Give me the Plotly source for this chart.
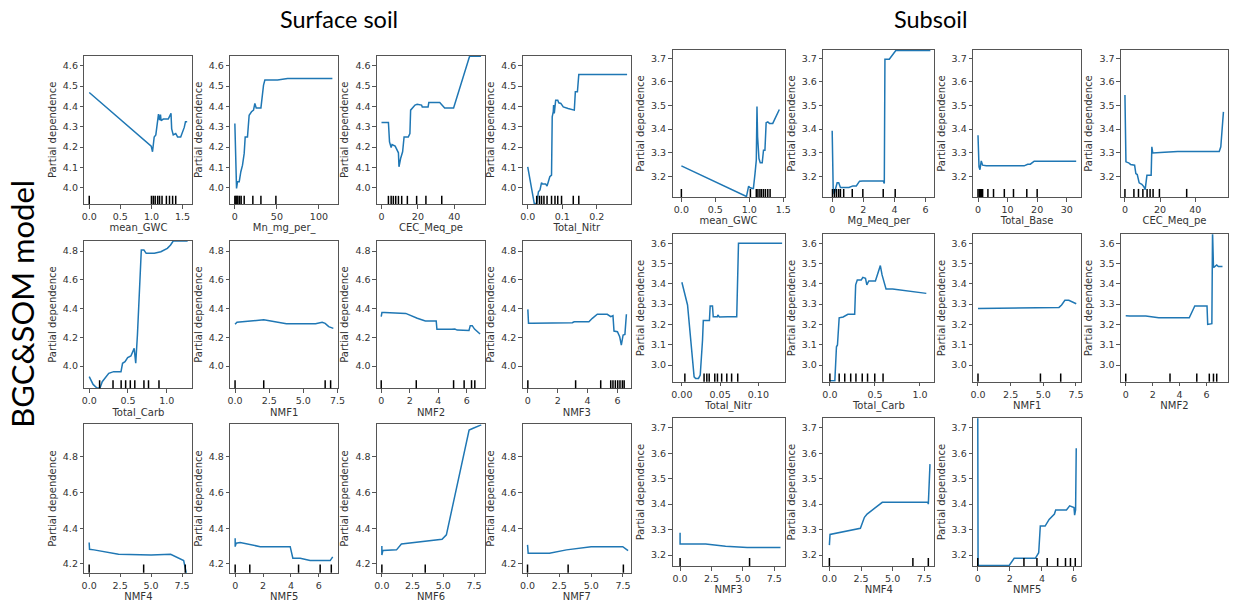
import plotly.graph_objects as go

W, H = 1237, 603

# ---------------- Surface soil ----------------
s_gwc_x = [0, 0.996, 1.017, 1.044, 1.07, 1.09, 1.113, 1.13, 1.145, 1.155, 1.19, 1.27, 1.314, 1.325, 1.35, 1.39, 1.42, 1.47, 1.527, 1.547, 1.574]
s_gwc_y = [4.469, 4.205, 4.177, 4.25, 4.26, 4.30, 4.362, 4.333, 4.36, 4.33, 4.338, 4.338, 4.366, 4.29, 4.26, 4.267, 4.25, 4.25, 4.297, 4.325, 4.325]
s_gwc_rug = [0, 1.0, 1.03, 1.06, 1.1, 1.13, 1.17, 1.24, 1.29, 1.34, 1.39]

s_mn_x = [0, 0.8, 2, 3.2, 5.2, 7.1, 9.1, 11.1, 12.3, 15, 17, 19.8, 22.2, 23.8, 25.4, 31, 34.1, 35.7, 50.8, 62.7, 116]
s_mn_y = [4.316, 4.218, 3.997, 4.03, 4.03, 4.079, 4.111, 4.169, 4.25, 4.25, 4.357, 4.374, 4.382, 4.415, 4.393, 4.393, 4.505, 4.53, 4.53, 4.538, 4.538]
s_mn_rug = [0, 1.2, 2.4, 3.6, 5.6, 7.5, 11.1, 21.4, 31, 48.8]

s_cec_x = [0, 3.8, 4.4, 5.3, 5.8, 7.5, 9.3, 9.6, 10.5, 11.6, 12.4, 14.7, 15.6, 16, 18.4, 19.6, 22, 22.4, 25.6, 26, 32, 34.7, 39.6, 48.4, 54.7]
s_cec_y = [4.321, 4.321, 4.226, 4.198, 4.213, 4.205, 4.172, 4.103, 4.144, 4.177, 4.25, 4.25, 4.267, 4.382, 4.407, 4.411, 4.407, 4.398, 4.398, 4.42, 4.42, 4.393, 4.393, 4.647, 4.647]
s_cec_rug = [3.8, 5.3, 6.5, 7.8, 9.3, 11.1, 14.2, 19.3, 24.4, 33.1]

s_nitr_x = [0, 0.0135, 0.019, 0.026, 0.031, 0.0356, 0.04, 0.043, 0.052, 0.056, 0.06, 0.064, 0.069, 0.071, 0.074, 0.075, 0.077, 0.081, 0.087, 0.09, 0.096, 0.103, 0.117, 0.132, 0.135, 0.138, 0.144, 0.148, 0.288]
s_nitr_y = [4.103, 3.972, 3.922, 3.922, 3.98, 3.989, 4.025, 4.018, 4.018, 4.008, 4.03, 4.054, 4.062, 4.349, 4.374, 4.407, 4.366, 4.431, 4.431, 4.418, 4.415, 4.398, 4.39, 4.385, 4.382, 4.472, 4.472, 4.557, 4.557]
s_nitr_rug = [0.026, 0.034, 0.040, 0.047, 0.056, 0.069, 0.079, 0.087, 0.098, 0.132, 0.148]

s_carb_x = [0, 0.05, 0.1, 0.139, 0.168, 0.252, 0.315, 0.41, 0.43, 0.462, 0.496, 0.538, 0.58, 0.6, 0.622, 0.672, 0.706, 0.735, 0.84, 0.924, 1.008, 1.05, 1.084, 1.27]
s_carb_y = [3.926, 3.872, 3.847, 3.847, 3.891, 3.949, 3.961, 3.961, 4.019, 4.03, 4.058, 4.07, 4.123, 4.019, 4.216, 4.807, 4.807, 4.784, 4.784, 4.795, 4.819, 4.842, 4.87, 4.87]
s_carb_rug = [0.134, 0.307, 0.412, 0.47, 0.53, 0.588, 0.706, 0.765, 0.9]

s_nmf1_x = [0, 0.14, 2.1, 3.76, 5.9, 6.38, 6.6, 6.86, 7.2]
s_nmf1_y = [4.29, 4.304, 4.322, 4.294, 4.294, 4.304, 4.297, 4.274, 4.262]
s_nmf1_rug = [0, 2.1, 6.6, 7.0]

s_nmf2_x = [0, 0.05, 0.23, 1.72, 2.53, 3.1, 3.86, 3.91, 4.94, 5.17, 5.33, 5.8, 6.16, 6.25, 6.39, 6.55, 6.78, 6.94]
s_nmf2_y = [4.343, 4.373, 4.373, 4.366, 4.332, 4.313, 4.313, 4.255, 4.255, 4.257, 4.25, 4.248, 4.248, 4.281, 4.281, 4.257, 4.234, 4.223]
s_nmf2_rug = [0, 2.46, 5.08, 5.82, 6.34, 6.57]

s_nmf3_x = [0, 0.045, 0.29, 2.98, 3.1, 4.09, 4.32, 4.65, 5.32, 5.55, 5.7, 5.77, 6.0, 6.15, 6.26, 6.38, 6.5, 6.6]
s_nmf3_y = [4.394, 4.297, 4.297, 4.301, 4.308, 4.308, 4.332, 4.36, 4.36, 4.343, 4.35, 4.243, 4.239, 4.204, 4.146, 4.216, 4.22, 4.36]
s_nmf3_rug = [0, 3.2, 4.88, 5.55, 5.7, 5.86, 6.02, 6.17, 6.33, 6.45]

s_nmf4_x = [0, 0.03, 0.39, 2.37, 5.0, 6.58, 7.63, 7.9]
s_nmf4_y = [4.32, 4.282, 4.279, 4.254, 4.25, 4.254, 4.219, 4.13]
s_nmf4_rug = [0, 4.4, 7.76]

s_nmf5_x = [0, 0, 0.07, 0.36, 1.8, 3.95, 4.14, 4.67, 5.38, 6.82, 7.0]
s_nmf5_y = [4.344, 4.297, 4.316, 4.32, 4.297, 4.297, 4.232, 4.232, 4.219, 4.219, 4.24]
s_nmf5_rug = [0, 1.05, 4.55, 6.1, 6.9]

s_nmf6_x = [0, 0, 0.08, 1.19, 1.59, 4.9, 5.25, 7.1, 7.43, 8.09]
s_nmf6_y = [4.301, 4.25, 4.275, 4.279, 4.312, 4.338, 4.363, 4.951, 4.961, 4.98]
s_nmf6_rug = [0, 3.53]

s_nmf7_x = [0, 0, 0.05, 1.72, 3.06, 5.0, 7.48, 7.9]
s_nmf7_y = [4.307, 4.264, 4.26, 4.26, 4.279, 4.297, 4.297, 4.275]
s_nmf7_rug = [0, 3.19, 7.53]

# ---------------- Subsoil ----------------
b_gwc_x = [0, 0.958, 0.99, 1.006, 1.045, 1.06, 1.084, 1.103, 1.113, 1.122, 1.142, 1.161, 1.19, 1.209, 1.23, 1.248, 1.272, 1.297, 1.345, 1.393, 1.442]
b_gwc_y = [3.244, 3.114, 3.158, 3.152, 3.148, 3.148, 3.211, 3.268, 3.495, 3.367, 3.275, 3.257, 3.257, 3.31, 3.31, 3.427, 3.43, 3.424, 3.424, 3.452, 3.483]
b_gwc_rug = [0, 1.016, 1.103, 1.127, 1.156, 1.18, 1.209, 1.238, 1.272, 1.306]

b_mg_x = [0, 0.064, 0.127, 0.21, 0.318, 0.42, 0.53, 1.08, 1.33, 1.55, 1.76, 1.97, 3.28, 3.35, 3.39, 3.67, 4.09, 6.31]
b_mg_y = [3.393, 3.148, 3.124, 3.141, 3.172, 3.172, 3.152, 3.152, 3.159, 3.159, 3.179, 3.18, 3.18, 3.169, 3.696, 3.696, 3.733, 3.733]
b_mg_rug = [0.02, 0.15, 0.28, 0.42, 0.53, 0.74, 1.29, 1.97, 3.28, 4.05]

b_base_x = [0, 0.34, 0.67, 1.1, 1.56, 2.8, 15.6, 16.8, 17.7, 19.0, 33.2]
b_base_y = [3.374, 3.24, 3.228, 3.265, 3.247, 3.244, 3.244, 3.251, 3.251, 3.264, 3.264]
b_base_rug = [0, 0.45, 0.78, 1.1, 1.56, 3.35, 5.25, 8.9, 12, 16.5, 20]

b_cec_x = [0, 0.57, 2.1, 3.2, 5.5, 6.2, 7.0, 8.1, 9.6, 10.8, 11.5, 12.1, 12.5, 14.9, 15.3, 15.8, 18.7, 22.5, 30, 53.6, 54.5, 56]
b_cec_y = [3.544, 3.261, 3.257, 3.25, 3.247, 3.211, 3.207, 3.172, 3.166, 3.155, 3.143, 3.169, 3.204, 3.204, 3.325, 3.299, 3.299, 3.302, 3.305, 3.305, 3.325, 3.473]
b_cec_rug = [0, 5.1, 7.7, 10.2, 12.6, 14.3, 16, 19.6, 35.1]

b_nitr_x = [0, 0.0074, 0.016, 0.018, 0.0217, 0.024, 0.027, 0.028, 0.0335, 0.036, 0.037, 0.04, 0.041, 0.0465, 0.047, 0.049, 0.06, 0.0717, 0.074, 0.131]
b_nitr_y = [3.408, 3.296, 2.942, 2.934, 2.934, 2.951, 3.123, 3.219, 3.219, 3.219, 3.291, 3.291, 3.238, 3.238, 3.247, 3.237, 3.238, 3.238, 3.6, 3.6]
b_nitr_rug = [0.0039, 0.029, 0.0326, 0.0357, 0.043, 0.0465, 0.052, 0.0587, 0.065, 0.073]

b_carb_x = [0, 0.055, 0.073, 0.084, 0.103, 0.147, 0.2, 0.275, 0.286, 0.304, 0.348, 0.366, 0.395, 0.41, 0.432, 0.505, 0.538, 0.56, 0.579, 0.623, 0.696, 1.07]
b_carb_y = [2.923, 2.923, 3.09, 3.099, 3.233, 3.237, 3.25, 3.25, 3.395, 3.419, 3.419, 3.432, 3.427, 3.395, 3.414, 3.414, 3.46, 3.49, 3.444, 3.375, 3.375, 3.353]
b_carb_rug = [0, 0.103, 0.165, 0.231, 0.289, 0.359, 0.418, 0.498, 0.59]

b_nmf1_x = [0, 6.2, 6.4, 6.65, 6.95, 7.2, 7.45, 7.52]
b_nmf1_y = [3.279, 3.284, 3.296, 3.319, 3.319, 3.312, 3.302, 3.302]
b_nmf1_rug = [0, 4.78, 6.33]

b_nmf2_x = [0, 0.29, 1.49, 2.45, 4.72, 5.13, 6.04, 6.09, 6.4, 6.45, 6.52, 6.64, 6.76, 6.88, 7.19]
b_nmf2_y = [3.243, 3.242, 3.242, 3.233, 3.233, 3.291, 3.291, 3.2, 3.204, 3.66, 3.48, 3.485, 3.493, 3.485, 3.485]
b_nmf2_rug = [0, 3.29, 5.28, 6.21, 6.52, 6.76]

b_nmf3_x = [0, 0, 0.19, 2.04, 3.62, 5.34, 7.99]
b_nmf3_y = [3.288, 3.243, 3.243, 3.243, 3.235, 3.23, 3.23]
b_nmf3_rug = [0, 5.53]

b_nmf4_x = [0, 0, 0.05, 2.45, 2.77, 2.98, 4.18, 7.77, 7.82, 7.95]
b_nmf4_y = [3.239, 3.279, 3.281, 3.305, 3.348, 3.361, 3.407, 3.407, 3.4, 3.557]
b_nmf4_rug = [0, 6.6, 7.82]

b_nmf5_x = [0, 0.02, 1.96, 2.27, 3.59, 3.8, 3.9, 4.2, 4.45, 4.78, 4.86, 5.53, 5.73, 5.88, 6.0, 6.04, 6.1, 6.14]
b_nmf5_y = [3.80, 3.159, 3.159, 3.187, 3.187, 3.209, 3.314, 3.314, 3.34, 3.361, 3.377, 3.377, 3.393, 3.39, 3.387, 3.357, 3.377, 3.619]
b_nmf5_rug = [0, 2.88, 3.69, 4.33, 4.98, 5.47, 5.78, 6.08]

# Shared y-ranges per row (range, tick step)
S_R1 = ([3.92, 4.65], 0.1)
S_R2 = ([3.845, 4.872], 0.2)
S_R3 = ([4.151, 4.983], 0.2)
B_R1 = ([3.112, 3.735], 0.1)
B_R2 = ([2.918, 3.644], 0.1)
B_R3 = ([3.157, 3.737], 0.1)

sc = [(82, 191), (229, 338), (377, 486), (524, 633)]
bc = [(675, 788), (827, 939), (978, 1087), (1127, 1235)]
sr = [(55.7, 204), (240.7, 388.3), (424.3, 572.7)]
br = [(50, 197), (234.3, 381.7), (418.3, 566)]

panels = [
    ("mean_GWC", s_gwc_x, s_gwc_y, s_gwc_rug, [-0.079, 1.659], 0.5, ".1f", sc[0], sr[0], S_R1),
    ("Mn_mg_per_", s_mn_x, s_mn_y, s_mn_rug, [-5.6, 123], 50, "d", sc[1], sr[0], S_R1),
    ("CEC_Meq_pe", s_cec_x, s_cec_y, s_cec_rug, [-2.5, 56.9], 20, "d", sc[2], sr[0], S_R1),
    ("Total_Nitr", s_nitr_x, s_nitr_y, s_nitr_rug, [-0.0144, 0.299], 0.1, ".1f", sc[3], sr[0], S_R1),
    ("Total_Carb", s_carb_x, s_carb_y, s_carb_rug, [-0.063, 1.332], 0.5, ".1f", sc[0], sr[1], S_R2),
    ("NMF1", s_nmf1_x, s_nmf1_y, s_nmf1_rug, [-0.36, 7.56], 2.5, ".1f", sc[1], sr[1], S_R2),
    ("NMF2", s_nmf2_x, s_nmf2_y, s_nmf2_rug, [-0.3, 7.29], 2, "d", sc[2], sr[1], S_R2),
    ("NMF3", s_nmf3_x, s_nmf3_y, s_nmf3_rug, [-0.34, 6.9], 2, "d", sc[3], sr[1], S_R2),
    ("NMF4", s_nmf4_x, s_nmf4_y, s_nmf4_rug, [-0.39, 8.34], 2.5, ".1f", sc[0], sr[2], S_R3),
    ("NMF5", s_nmf5_x, s_nmf5_y, s_nmf5_rug, [-0.36, 7.4], 2, "d", sc[1], sr[2], S_R3),
    ("NMF6", s_nmf6_x, s_nmf6_y, s_nmf6_rug, [-0.4, 8.4], 2.5, ".1f", sc[2], sr[2], S_R3),
    ("NMF7", s_nmf7_x, s_nmf7_y, s_nmf7_rug, [-0.375, 8.12], 2.5, ".1f", sc[3], sr[2], S_R3),
    ("mean_GWC", b_gwc_x, b_gwc_y, b_gwc_rug, [-0.13, 1.52], 0.5, ".1f", bc[0], br[0], B_R1),
    ("Mg_Meq_per", b_mg_x, b_mg_y, b_mg_rug, [-0.57, 6.57], 2, "d", bc[1], br[0], B_R1),
    ("Total_Base", b_base_x, b_base_y, b_base_rug, [-1.66, 34.9], 10, "d", bc[2], br[0], B_R1),
    ("CEC_Meq_pe", b_cec_x, b_cec_y, b_cec_rug, [-2.3, 58.6], 20, "d", bc[3], br[0], B_R1),
    ("Total_Nitr", b_nitr_x, b_nitr_y, b_nitr_rug, [-0.0122, 0.1343], 0.05, ".2f", bc[0], br[1], B_R2),
    ("Total_Carb", b_carb_x, b_carb_y, b_carb_rug, [-0.073, 1.16], 0.5, ".1f", bc[1], br[1], B_R2),
    ("NMF1", b_nmf1_x, b_nmf1_y, b_nmf1_rug, [-0.375, 7.9], 2.5, ".1f", bc[2], br[1], B_R2),
    ("NMF2", b_nmf2_x, b_nmf2_y, b_nmf2_rug, [-0.36, 7.6], 2, "d", bc[3], br[1], B_R2),
    ("NMF3", b_nmf3_x, b_nmf3_y, b_nmf3_rug, [-0.6, 8.32], 2.5, ".1f", bc[0], br[2], B_R3),
    ("NMF4", b_nmf4_x, b_nmf4_y, b_nmf4_rug, [-0.48, 8.3], 2.5, ".1f", bc[1], br[2], B_R3),
    ("NMF5", b_nmf5_x, b_nmf5_y, b_nmf5_rug, [-0.29, 6.45], 2, "d", bc[2], br[2], B_R3),
]

LINE = "#1f77b4"
SPINE = "#555555"
TXT = "#333333"
FONT = "DejaVu Sans"

fig = go.Figure()
shapes = []
layout = {}
for i, (label, xs, ys, rug, xr, dt, fmt, (l, r), (t, b), (yr, ydt)) in enumerate(panels, start=1):
    xa = "x" if i == 1 else f"x{i}"
    ya = "y" if i == 1 else f"y{i}"
    fig.add_trace(go.Scatter(x=xs, y=ys, mode="lines", xaxis=xa, yaxis=ya,
                             line=dict(color=LINE, width=1.5), showlegend=False,
                             hoverinfo="skip"))
    for rx in rug:
        shapes.append(dict(type="line", xref=xa, yref=f"{ya} domain",
                           x0=rx, x1=rx, y0=0, y1=0.055,
                           line=dict(color="black", width=1.5)))
    common = dict(showline=True, mirror=True, linecolor=SPINE, linewidth=1,
                  ticks="outside", ticklen=3.5, tickwidth=1, tickcolor=SPINE,
                  showgrid=False, zeroline=False,
                  tickfont=dict(size=9.5, color=TXT, family=FONT))
    layout["xaxis" if i == 1 else f"xaxis{i}"] = dict(
        domain=[l / W, r / W], range=xr, dtick=dt, tick0=0, tickformat=fmt,
        anchor=ya, title=dict(text=label, font=dict(size=10, color=TXT, family=FONT), standoff=3),
        **common)
    layout["yaxis" if i == 1 else f"yaxis{i}"] = dict(
        domain=[1 - b / H, 1 - t / H], range=yr, dtick=ydt, tick0=0, tickformat=".1f",
        anchor=xa, title=dict(text="Partial dependence", font=dict(size=10, color=TXT, family=FONT), standoff=4),
        **common)

fig.update_layout(**layout)
fig.update_layout(
    width=W, height=H, margin=dict(l=0, r=0, t=0, b=0),
    paper_bgcolor="white", plot_bgcolor="white",
    shapes=shapes,
    annotations=[
        dict(text="Surface soil", x=339 / W, y=1 - 19 / H, xref="paper", yref="paper",
             showarrow=False, xanchor="center", yanchor="middle",
             font=dict(size=23.5, color="black", family="Lato")),
        dict(text="Subsoil", x=935 / W, y=1 - 19 / H, xref="paper", yref="paper",
             showarrow=False, xanchor="center", yanchor="middle",
             font=dict(size=23.5, color="black", family="Lato")),
        dict(text="BGC&SOM model", x=19 / W, y=1 - 304 / H, xref="paper", yref="paper",
             showarrow=False, xanchor="center", yanchor="middle", textangle=-90,
             font=dict(size=31, color="black", family="Lato")),
    ],
)

fig.write_html("out.html",
               config={"displayModeBar": False, "staticPlot": True},
               post_script="document.body.style.margin='0';document.body.style.overflow='hidden';")
